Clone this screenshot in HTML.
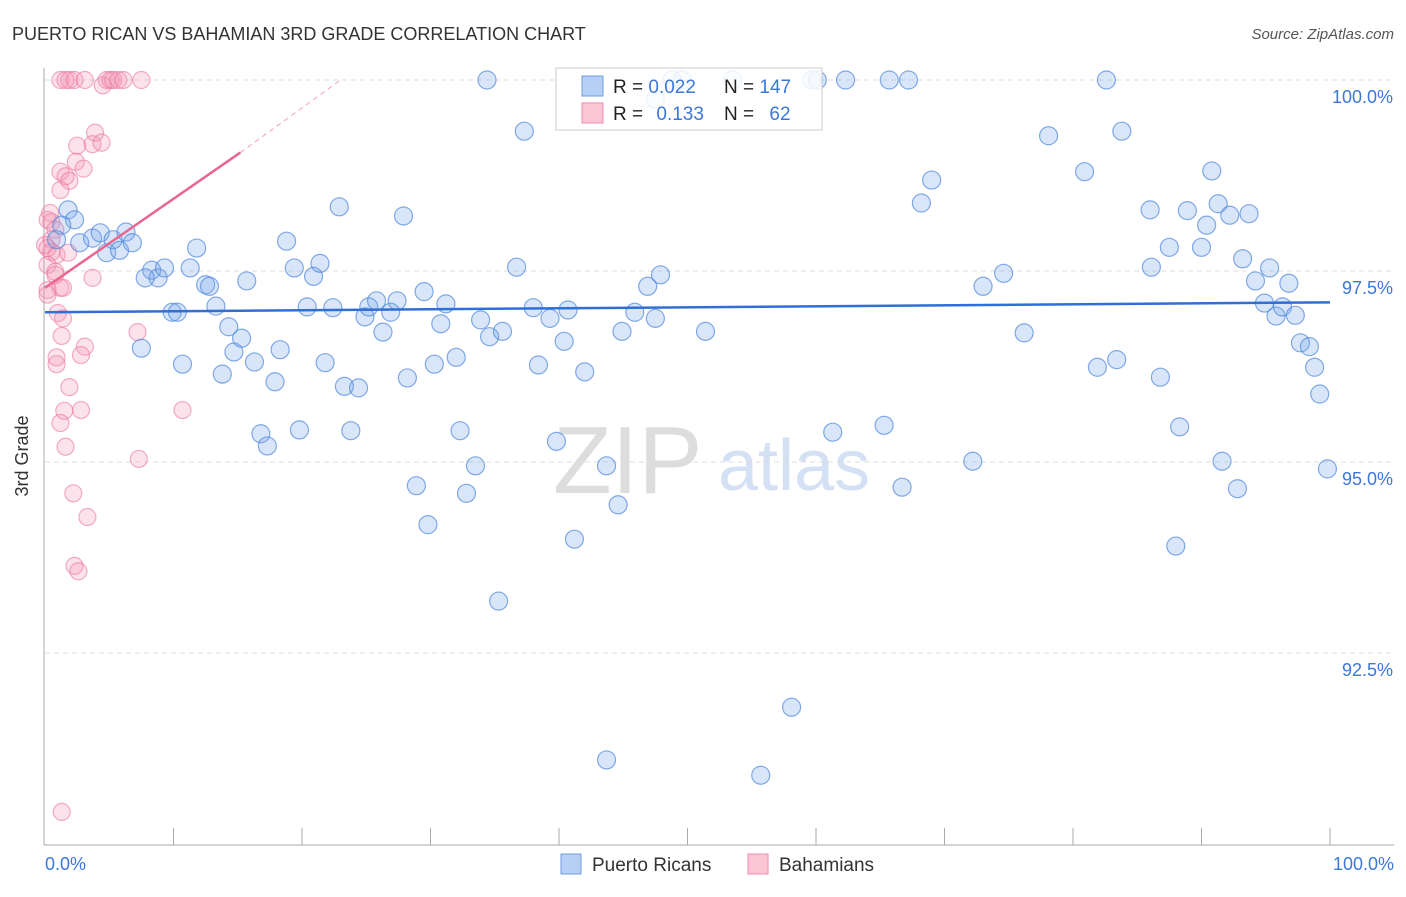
<!DOCTYPE html>
<html><head><meta charset="utf-8"><style>
body{margin:0;background:#fff;font-family:"Liberation Sans",sans-serif;}
svg text{font-family:"Liberation Sans",sans-serif;}
</style></head><body>
<svg id="chart" width="1406" height="892">
<text x="12" y="40" font-size="18" fill="#333">PUERTO RICAN VS BAHAMIAN 3RD GRADE CORRELATION CHART</text>
<text x="1394" y="39" font-size="15" fill="#555" font-style="italic" text-anchor="end">Source: ZipAtlas.com</text>
<g><text x="553" y="493" font-size="96" fill="#ddd" font-family="Liberation Serif">ZIP</text><text x="718" y="490" font-size="72" fill="#d4e0f4">atlas</text></g>
<g id="grid"></g>
<line x1="44" y1="68" x2="44" y2="845" stroke="#aaa"/>
<line x1="44" y1="845" x2="1394" y2="845" stroke="#aaa"/>
<g id="xticks"></g>
<text x="28" y="456" font-size="18" fill="#333" transform="rotate(-90 28 456)" text-anchor="middle">3rd Grade</text>
<text x="45" y="870" font-size="18" fill="#3b78d8">0.0%</text>
<text x="1394" y="870" font-size="18" fill="#3b78d8" text-anchor="end">100.0%</text>
<g id="pink"></g><g id="blue"></g><g id="trends"></g>
<g>
<rect x="556" y="68" width="266" height="62" fill="#fff" fill-opacity="0.85" stroke="#ccc"/>
<rect x="582" y="76" width="21" height="20" fill="#b6cff4" stroke="#6f9de3"/>
<rect x="582" y="103" width="21" height="20" fill="#fac6d5" stroke="#ef8eab"/>
<text x="613" y="93" font-size="19" fill="#222">R = <tspan fill="#3b78d8">0.022</tspan></text>
<text x="724" y="93" font-size="19" fill="#222">N = <tspan fill="#3b78d8">147</tspan></text>
<text x="613" y="120" font-size="19" fill="#222">R = <tspan fill="#3b78d8" dx="8">0.133</tspan></text>
<text x="724" y="120" font-size="19" fill="#222">N = <tspan fill="#3b78d8" dx="10">62</tspan></text>
</g>
<g>
<rect x="561" y="854" width="20" height="20" fill="#b6cff4" stroke="#6f9de3"/>
<text x="592" y="871" font-size="19" fill="#333">Puerto Ricans</text>
<rect x="748" y="854" width="20" height="20" fill="#fac6d5" stroke="#ef8eab"/>
<text x="779" y="871" font-size="19" fill="#333">Bahamians</text>
</g>
</svg>
<script>
const yTicks=[100,97.5,95,92.5];
const yTickLabels=["100.0%","97.5%","95.0%","92.5%"];
const blueX=[1.8,2.3,1.3,0.9,2.7,3.7,4.3,4.8,5.3,5.8,6.3,6.8,8.3,8.8,7.8,9.3,11.3,11.8,12.5,12.8,13.3,9.9,10.3,7.5,10.7,13.8,14.3,14.7,15.3,15.7,16.3,17.9,18.3,16.8,17.3,18.8,19.4,19.8,20.4,20.9,21.4,21.8,22.4,22.9,23.3,23.8,24.4,24.9,25.2,25.8,26.3,26.9,27.4,27.9,28.2,28.9,29.5,29.8,30.3,30.8,31.2,32.0,32.3,32.8,33.5,33.9,34.6,35.3,35.6,36.7,37.3,38.0,38.4,39.3,39.8,40.4,40.7,41.2,42.0,43.7,43.7,44.6,44.9,45.9,46.9,47.5,47.9,48.8,51.4,53.5,55.7,58.1,59.7,60.1,61.3,62.3,65.3,65.7,66.7,67.2,68.2,69.0,72.2,73.0,74.6,76.2,78.1,80.9,81.9,82.6,83.4,83.8,86.0,86.1,86.8,87.5,88.0,88.3,88.9,90.0,90.4,90.8,91.3,91.6,92.2,92.8,93.2,93.7,94.2,94.9,95.3,95.8,96.3,96.8,97.3,97.7,98.4,98.8,99.2,99.8,34.4,47.5,49.6];
const blueY=[98.30,98.17,98.10,97.91,97.87,97.93,98.00,97.74,97.91,97.77,98.01,97.87,97.51,97.41,97.41,97.54,97.54,97.80,97.32,97.30,97.04,96.96,96.96,96.49,96.28,96.15,96.77,96.44,96.62,97.37,96.31,96.05,96.47,95.37,95.21,97.89,97.54,95.42,97.03,97.43,97.60,96.30,97.02,98.34,95.99,95.41,95.97,96.90,97.03,97.11,96.70,96.96,97.11,98.22,96.10,94.69,97.23,94.18,96.28,96.81,97.07,96.37,95.41,94.59,94.95,96.86,96.64,93.18,96.71,97.55,99.33,97.02,96.27,96.88,95.27,96.58,96.99,93.99,96.18,91.10,94.95,94.44,96.71,96.96,97.30,96.88,97.45,100,96.71,100,90.90,91.79,100,100,95.39,100,95.48,100,94.67,100,98.39,98.69,95.01,97.30,97.47,96.69,99.27,98.80,96.24,100,96.34,99.33,98.30,97.55,96.11,97.81,93.90,95.46,98.29,97.81,98.10,98.81,98.38,95.01,98.23,94.65,97.66,98.25,97.37,97.08,97.54,96.91,97.03,97.34,96.92,96.56,96.51,96.24,95.89,94.91,100,99.75,100];
const pinkX=[1.2,1.6,1.9,2.3,3.1,4.5,4.8,5.1,5.3,5.7,6.1,7.5,3.9,3.7,2.5,4.4,2.4,3.0,1.2,1.6,1.9,1.2,0.4,0.2,0.5,0.8,0.5,0.2,0.5,0.9,1.8,0.2,0.8,3.7,0.2,1.2,1.4,7.2,1.0,1.4,1.3,3.1,2.8,0.9,0.9,1.9,2.8,1.5,10.7,1.2,1.6,7.3,2.2,3.3,2.3,2.6,1.3,0.8,0.2,0.0];
const pinkY=[100,100,100,100,100,99.93,100,100,100,100,100,100,99.31,99.16,99.14,99.18,98.93,98.84,98.80,98.74,98.68,98.56,98.26,98.17,98.14,98.04,97.91,97.80,97.75,97.71,97.74,97.58,97.49,97.41,97.25,97.28,97.28,96.70,96.95,96.88,96.65,96.51,96.40,96.37,96.28,95.98,95.68,95.67,95.68,95.51,95.20,95.04,94.59,94.28,93.64,93.57,90.42,97.45,97.19,97.84];
const blueTrend=[96.96,97.09];
const pinkTrend=[97.28,99.05,100.0];
const pinkTrendX=[0,15.2,23];
const NS="http://www.w3.org/2000/svg";
function xs(v){return 45+v*12.85;}
function ys(v){return 80+(100-v)*76.4;}
function mk(tag,attrs,parent){const e=document.createElementNS(NS,tag);for(const k in attrs)e.setAttribute(k,attrs[k]);parent.appendChild(e);return e;}
const grid=document.getElementById('grid');
yTicks.forEach((t,i)=>{
 const l=mk('line',{x1:45,x2:1394,y1:ys(t),y2:ys(t),stroke:'#ddd','stroke-dasharray':'5,4'},grid);
 
 
 const tx=mk('text',{x:1393,y:ys(t)+23,'font-size':18,fill:'#3b78d8','text-anchor':'end'},grid);
 tx.textContent=yTickLabels[i];
 
 
});
const xt=document.getElementById('xticks');
for(let i=1;i<=10;i++){
 const l=mk('line',{x1:xs(i*10),x2:xs(i*10),y1:828,y2:845,stroke:'#aaa'},xt);
 
 
}
const pg=document.getElementById('pink');
pinkX.forEach((v,i)=>{
 const c=mk('circle',{cx:xs(v),cy:ys(pinkY[i]),r:8.5,fill:'rgba(244,150,180,0.28)',stroke:'rgba(235,120,160,0.6)','stroke-width':1.2},pg);
 
 
});
const bg=document.getElementById('blue');
blueX.forEach((v,i)=>{
 const c=mk('circle',{cx:xs(v),cy:ys(blueY[i]),r:9,fill:'rgba(120,165,235,0.28)',stroke:'rgba(80,135,220,0.7)','stroke-width':1.2},bg);
 
 
});
const tg=document.getElementById('trends');
const bl=mk('line',{x1:xs(0),y1:ys(blueTrend[0]),x2:xs(100),y2:ys(blueTrend[1]),stroke:'#2f6fd6','stroke-width':2.5},tg);


const pl=mk('line',{x1:xs(pinkTrendX[0]),y1:ys(pinkTrend[0]),x2:xs(pinkTrendX[1]),y2:ys(pinkTrend[1]),stroke:'#e8668f','stroke-width':2.5},tg);


const pd=mk('line',{x1:xs(pinkTrendX[1]),y1:ys(pinkTrend[1]),x2:xs(pinkTrendX[2]),y2:ys(pinkTrend[2]),stroke:'#f0a0b8','stroke-width':1,'stroke-dasharray':'5,4'},tg);


</script>
</body></html>
